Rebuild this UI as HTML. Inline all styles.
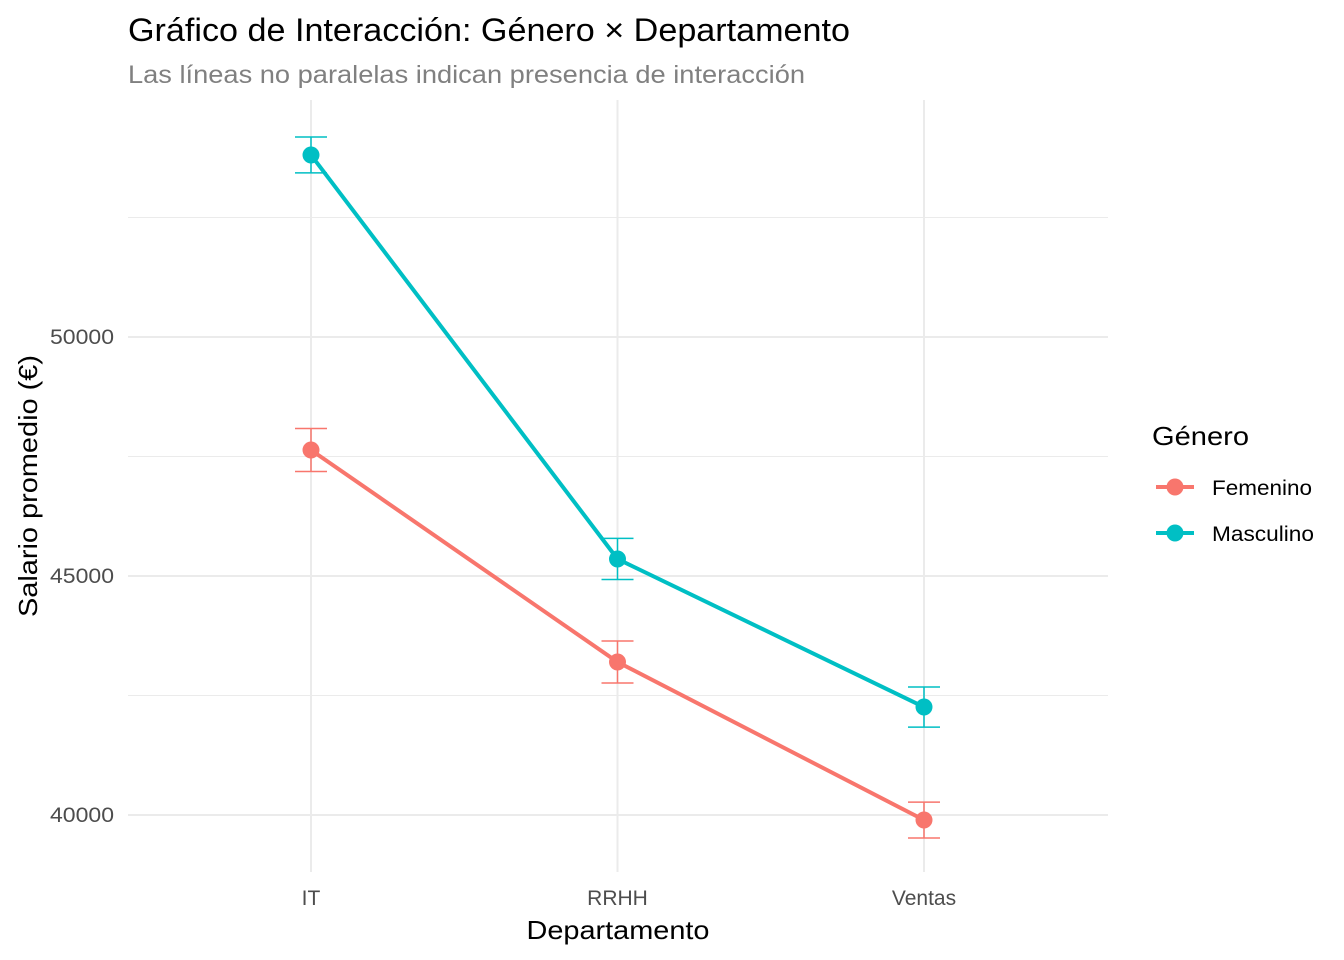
<!DOCTYPE html>
<html><head><meta charset="utf-8"><style>
body{margin:0;background:#fff;}
svg{display:block;font-family:"Liberation Sans",Arial,sans-serif;}
</style></head><body>
<svg id="chart" width="1344" height="960">
<text x="128" y="41" font-size="32" textLength="722" lengthAdjust="spacingAndGlyphs" fill="#000">Gráfico de Interacción: Género × Departamento</text>
<text x="128" y="83" font-size="25" textLength="677" lengthAdjust="spacingAndGlyphs" fill="#808080">Las líneas no paralelas indican presencia de interacción</text>
<g id="grid"></g><g id="marks"></g><g id="axes"></g>
<text transform="translate(37,486) rotate(-90)" text-anchor="middle" font-size="26" textLength="262" lengthAdjust="spacingAndGlyphs" fill="#000">Salario promedio (€)</text>
<text x="618" y="939" text-anchor="middle" font-size="26" textLength="183" lengthAdjust="spacingAndGlyphs" fill="#000">Departamento</text>
<g>
<text x="1152" y="445" font-size="26" textLength="97" lengthAdjust="spacingAndGlyphs" fill="#000">Género</text>
<g>
<line x1="1156" y1="487" x2="1194" y2="487" stroke="#F8766D" stroke-width="4"/><circle cx="1175" cy="487" r="8.5" fill="#F8766D"/>
<text x="1212" y="495" font-size="21" textLength="100" lengthAdjust="spacingAndGlyphs" fill="#000">Femenino</text></g>
<g>
<line x1="1156" y1="533" x2="1194" y2="533" stroke="#00BFC4" stroke-width="4"/><circle cx="1175" cy="533" r="8.5" fill="#00BFC4"/>
<text x="1212" y="541" font-size="21" textLength="102" lengthAdjust="spacingAndGlyphs" fill="#000">Masculino</text></g>
</g>
</svg>
<script>
const categories=["IT","RRHH","Ventas"];
const femenino=[47636,43201,39895];
const femeninoErr=[450,440,375];
const masculino=[53808,45356,42259];
const masculinoErr=[375,430,420];
const yTicks=[40000,45000,50000];
const yMinor=[42500,47500,52500];
const ns="http://www.w3.org/2000/svg";
const X0=128,X1=1108,Ytop=100,Ybot=872;
function xs(i){return 311+i*306.5;}
function ys(v){return 815-(v-40000)*(478/10000);}
function mk(tag,attrs,parent){const e=document.createElementNS(ns,tag);for(const k in attrs)e.setAttribute(k,attrs[k]);document.getElementById(parent).appendChild(e);return e;}
yMinor.forEach(v=>{const l=mk('line',{x1:X0,x2:X1,y1:ys(v),y2:ys(v),stroke:'#ebebeb','stroke-width':1},'grid');

});
yTicks.forEach(v=>{const l=mk('line',{x1:X0,x2:X1,y1:ys(v),y2:ys(v),stroke:'#ebebeb','stroke-width':2},'grid');


const t=mk('text',{x:114,y:ys(v)+7,'text-anchor':'end','font-size':21,textLength:64,lengthAdjust:'spacingAndGlyphs',fill:'#4d4d4d'},'axes');t.textContent=v;

});
categories.forEach((c,i)=>{const l=mk('line',{x1:xs(i),x2:xs(i),y1:Ytop,y2:Ybot,stroke:'#ebebeb','stroke-width':2},'grid');


const t=mk('text',{x:xs(i),y:905,'text-anchor':'middle','font-size':21,fill:'#4d4d4d'},'axes');t.textContent=c;

});
function series(vals,errs,col,name){
const p=mk('polyline',{points:vals.map((v,i)=>xs(i)+','+ys(v)).join(' '),fill:'none',stroke:col,'stroke-width':4},'marks');


vals.forEach((v,i)=>{const x=xs(i),a=ys(v+errs[i]),b=ys(v-errs[i]);
const g=mk('path',{d:`M${x-16},${a}H${x+16}M${x},${a}V${b}M${x-16},${b}H${x+16}`,stroke:col,'stroke-width':1.5,fill:'none'},'marks');


const c=mk('circle',{cx:x,cy:ys(v),r:8.5,fill:col},'marks');

});}
series(femenino,femeninoErr,'#F8766D','femenino');
series(masculino,masculinoErr,'#00BFC4','masculino');
</script>
</body></html>
